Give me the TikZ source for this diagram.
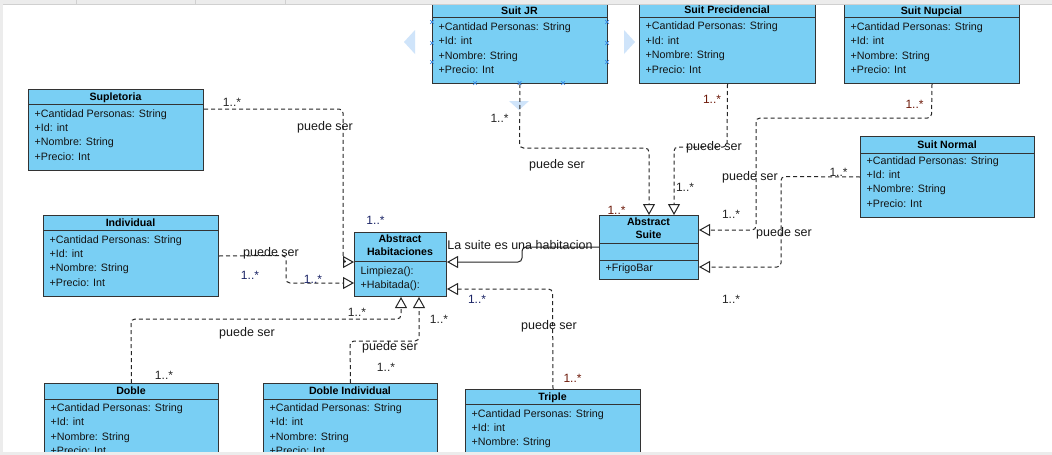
\documentclass[tikz,border=0pt]{standalone}
\usepackage{fontspec}
\setmainfont{Liberation Sans}
\usetikzlibrary{arrows.meta,calc}
\pgfdeclarelayer{bg}
\pgfsetlayers{bg,main}

\definecolor{classfill}{HTML}{79CFF4}
\definecolor{classline}{HTML}{333333}
\definecolor{wire}{HTML}{262626}
\definecolor{uigray}{HTML}{ECECEC}
\definecolor{uiline}{HTML}{D0D0D0}
\definecolor{hint}{HTML}{CFE4FA}
\definecolor{handle}{HTML}{3C8CE6}
\definecolor{multblue}{HTML}{1B2466}
\definecolor{multred}{HTML}{6E1A0A}

\tikzset{
  classbox/.style={draw=classline, fill=classfill, line width=1pt, inner sep=0pt, anchor=north west},
  classtitle/.style={font=\fontsize{10.6}{13}\selectfont\bfseries, inner sep=0pt, text height=7.6pt, text depth=0pt},
  member/.style={font=\fontsize{10.7}{12}\selectfont, anchor=west, inner sep=0pt, text height=7.7pt, text depth=0pt, text=black!92},
  dep/.style={draw=wire, line width=1pt, dash pattern=on 4pt off 3pt, rounded corners=4pt,
    -{Triangle[open,length=11pt,width=12pt,line width=1pt]}},
  gen/.style={draw=wire, line width=1pt, rounded corners=4pt,
    -{Triangle[open,length=11pt,width=12pt,line width=1pt]}},
  rolelabel/.style={font=\fontsize{12.5}{14}\selectfont, inner sep=0pt, text height=6.5pt, text depth=0pt, text=black!90},
  mult/.style={font=\fontsize{12}{14}\selectfont, inner sep=0pt, text height=8.6pt, text depth=0pt, text=black!85},
  hinttip/.style={fill=hint, draw=none},
  handlemark/.style={draw=handle, line width=0.7pt},
}

% class box: name, left, top, right, header bottom, bottom, title lines (y/text), members (y/text)
\newcommand\umlclass[8]{%
  \node[classbox, minimum width={#4-#2}, minimum height={#6-#3}] (#1) at (#2,#3) {};
  \draw[classline, line width=1pt] (#1.west |- 0,#5) -- (#1.east |- 0,#5);
  \foreach \yy/\tx in {#7} \node[classtitle] (#1-t\yy) at ({(#2+#4)/2},\yy) {\tx};
  \foreach \yy/\tx in {#8} \node[member] (#1-m\yy) at (#2+6.5,\yy) {\tx};
}

\begin{document}
\begin{tikzpicture}[x=1pt,y=-1pt]
\useasboundingbox (0,0) rectangle (1052,455);
\clip (0,0) rectangle (1052,455);

% classes
\umlclass{jr}{432}{4}{607}{17}{83}{10.5/Suit JR}
  {27/+Cantidad Personas: String,41/+Id: int,56/+Nombre: String,70/+Precio: Int}
\umlclass{pre}{639}{4}{815}{17}{83}{10/Suit Precidencial}
  {26/+Cantidad Personas: String,41/+Id: int,55/+Nombre: String,70/+Precio: Int}
\umlclass{nup}{844}{4}{1019}{17}{83}{10.5/Suit Nupcial}
  {27/+Cantidad Personas: String,41/+Id: int,56/+Nombre: String,70/+Precio: Int}
\umlclass{sup}{28}{89}{203}{104}{170}{96.5/Supletoria}
  {114/+Cantidad Personas: String,128/+Id: int,142/+Nombre: String,157/+Precio: Int}
\umlclass{ind}{43}{215}{218}{230}{296}{222.5/Individual}
  {240/+Cantidad Personas: String,254/+Id: int,268/+Nombre: String,283/+Precio: Int}
\umlclass{nor}{860}{136}{1034}{153}{217}{144.5/Suit Normal}
  {161/+Cantidad Personas: String,175/+Id: int,189/+Nombre: String,204/+Precio: Int}
\umlclass{dob}{44}{383}{218}{399}{470}{391/Doble}
  {408/+Cantidad Personas: String,422/+Id: int,437/+Nombre: String,451/+Precio: Int}
\umlclass{dind}{263}{383}{437}{399}{470}{391/Doble Individual}
  {408/+Cantidad Personas: String,422/+Id: int,437/+Nombre: String,451/+Precio: Int}
\umlclass{tri}{465}{389}{640}{404}{470}{396.5/Triple}
  {414/+Cantidad Personas: String,428/+Id: int,442/+Nombre: String}
\umlclass{hab}{354}{232}{446}{261}{296}{239/Abstract,252/Habitaciones}
  {271/Limpieza():,285/+Habitada():}
\umlclass{suite}{599}{215}{698}{243}{279}{222/Abstract,235/Suite}
  {268/+FrigoBar}
\draw[classline, line width=1pt] (suite.west |- 0,260) -- (suite.east |- 0,260);

\begin{pgfonlayer}{bg}
  \fill[white] (0,0) rectangle (1052,455);
  % editor hints around the selected class
  \fill[hinttip] (404,42) -- (415,30) -- (415,54) -- cycle;
  \fill[hinttip] (635,42) -- (624,30) -- (624,54) -- cycle;
  \fill[hinttip] (509,101) -- (529,101) -- (519,110) -- cycle;
  % generalisations
  \draw[dep] (sup.east |- 0,109) -- (343,109) -- (343,262) -- (hab.west |- 0,262);
  \draw[dep] (ind.east) -- (286,255.5) -- (286,283) -- (hab.west |- 0,283);
  \draw[gen] (suite.west |- 0,247) -- (522,247) -- (522,262) -- (hab.east |- 0,262);
  \draw[dep] (tri.north) -- (552.5,289) -- (hab.east |- 0,289);
  \draw[dep] (dob.north) -- (131,319) -- (401,319) -- (hab.south -| 401,0);
  \draw[dep] (dind.north) -- (350,341) -- (419,341) -- (hab.south -| 419,0);
  \draw[dep] (jr.south) -- (519.5,148) -- (649,148) -- (suite.north -| 649,0);
  \draw[dep] (pre.south) -- (727,147) -- (674,147) -- (suite.north -| 674,0);
  \draw[dep] (nup.south) -- (931.5,118) -- (756,118) -- (756,230) -- (suite.east |- 0,230);
  \draw[dep] (nor.west) -- (781,176.5) -- (781,267) -- (suite.east |- 0,267);
\end{pgfonlayer}

% selection handles
\foreach \hx/\hy [count=\i] in {432/22,432/43,432/62,607/22,607/43,607/62,475/83,519.5/83,563/83}{
  \coordinate (hd\i) at (\hx,\hy);
  \draw[handlemark] ($(hd\i)+(-1.8,-1.8)$) -- ($(hd\i)+(1.8,1.8)$);
  \draw[handlemark] ($(hd\i)+(-1.8,1.8)$) -- ($(hd\i)+(1.8,-1.8)$);
}

% role labels
\node[rolelabel] (r1) at (325,127) {puede ser};
\node[rolelabel] (r2) at (271,253) {puede ser};
\node[rolelabel] (r3) at (247,333) {puede ser};
\node[rolelabel] (r4) at (390,347) {puede ser};
\node[rolelabel] (r5) at (549,326) {puede ser};
\node[rolelabel] (r6) at (557,165) {puede ser};
\node[rolelabel] (r7) at (714,147) {puede ser};
\node[rolelabel] (r8) at (750,177) {puede ser};
\node[rolelabel] (r9) at (784,233) {puede ser};
\node[rolelabel] (r10) at (520,246) {La suite es una habitacion};

% multiplicities
\node[mult] (m1) at (232,102) {1..*};
\node[mult, text=multblue] (m2) at (375.5,220.5) {1..*};
\node[mult, text=multblue] (m3) at (250,275) {1..*};
\node[mult, text=multblue] (m4) at (313,279.5) {1..*};
\node[mult] (m5) at (164,375.5) {1..*};
\node[mult] (m6) at (357,312.5) {1..*};
\node[mult] (m7) at (386,367) {1..*};
\node[mult] (m8) at (439,319.5) {1..*};
\node[mult, text=multred] (m9) at (572.5,378.5) {1..*};
\node[mult, text=multblue] (m10) at (477,299) {1..*};
\node[mult] (m11) at (499.5,118) {1..*};
\node[mult, text=multred] (m12) at (616.5,210) {1..*};
\node[mult, text=multred] (m13) at (712,99) {1..*};
\node[mult] (m14) at (685,187) {1..*};
\node[mult, text=multred] (m15) at (914.5,104) {1..*};
\node[mult] (m16) at (731,214) {1..*};
\node[mult] (m17) at (838.5,172) {1..*};
\node[mult] (m18) at (731,299.5) {1..*};

% editor frame
\fill[uigray] (0,0) rectangle (1052,4);
\draw[uiline, line width=0.6pt] (0,4) -- (1052,4);
\foreach \sx in {76,195,285} \draw[uiline, line width=0.6pt] (\sx,0) -- (\sx,4);
\fill[uigray] (0,0) rectangle (3,455);
\fill[uigray] (0,452) rectangle (1052,455);
\end{tikzpicture}
\end{document}
